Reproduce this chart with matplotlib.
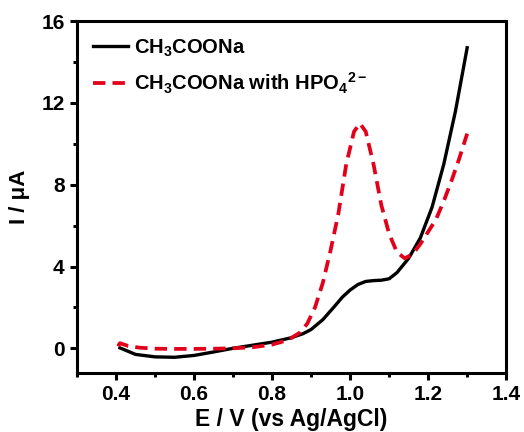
import matplotlib
matplotlib.use("Agg")
import matplotlib.pyplot as plt
from matplotlib.ticker import MultipleLocator

# black curve: CH3COONa
e_ref = [0.41, 0.45, 0.50, 0.55, 0.60, 0.65, 0.70, 0.75, 0.80, 0.85, 0.88, 0.90, 0.93,
         0.96, 0.98, 1.00, 1.02, 1.04, 1.06, 1.08, 1.10, 1.12, 1.15, 1.18, 1.21, 1.24,
         1.27, 1.30]
i_ref = [0.02, -0.30, -0.42, -0.44, -0.35, -0.18, 0.0, 0.15, 0.30, 0.52, 0.72, 0.92, 1.40,
         2.05, 2.5, 2.85, 3.12, 3.27, 3.31, 3.33, 3.4, 3.7, 4.4, 5.4, 6.9, 9.0,
         11.6, 14.7]

# red dashed curve: with HPO4 2-
e_hpo = [0.405, 0.41, 0.43, 0.46, 0.50, 0.55, 0.60, 0.65, 0.70, 0.75, 0.80, 0.84,
         0.87, 0.89, 0.91, 0.93, 0.95, 0.97, 0.99, 1.01, 1.025, 1.04, 1.06, 1.08,
         1.10, 1.12, 1.14, 1.16, 1.18, 1.20, 1.22, 1.24, 1.26, 1.28, 1.30]
i_hpo = [0.1, 0.25, 0.12, 0.03, -0.02, -0.03, -0.03, -0.02, 0.0, 0.05, 0.18, 0.40,
         0.75, 1.2, 2.0, 3.2, 4.8, 6.6, 9.0, 10.6, 11.0, 10.6, 9.0, 7.0,
         5.6, 4.7, 4.4, 4.6, 5.1, 5.7, 6.3, 7.2, 8.2, 9.3, 10.5]

labels = ["CH$_3$COONa", "CH$_3$COONa with HPO$_4$$^{2-}$"]
xticks = [0.4, 0.6, 0.8, 1.0, 1.2, 1.4]
xticklabels = ['0.4', '0.6', '0.8', '1.0', '1.2', '1.4']

plt.rcParams['font.family'] = ['Liberation Sans', 'DejaVu Sans']
plt.rcParams['font.weight'] = 'bold'
plt.rcParams['mathtext.fontset'] = 'custom'
plt.rcParams['mathtext.rm'] = 'Liberation Sans:bold'
plt.rcParams['mathtext.it'] = 'Liberation Sans:bold'
plt.rcParams['mathtext.bf'] = 'Liberation Sans:bold'
plt.rcParams['mathtext.default'] = 'regular'

fig = plt.figure(figsize=(5.24, 4.32), dpi=100)
ax = fig.add_axes([0.147, 0.137, 0.819, 0.814])

ax.plot(e_ref, i_ref, color='black', lw=2.4, label=labels[0])
ax.plot(e_hpo, i_hpo, color='#e3001b', lw=2.7, ls=(0, (3.3, 1.9)), label=labels[1])

ax.set_xlim(0.3, 1.4)
ax.set_ylim(-1.2, 16)
ax.xaxis.set_minor_locator(MultipleLocator(0.1))
ax.yaxis.set_major_locator(MultipleLocator(4))
ax.yaxis.set_minor_locator(MultipleLocator(2))
ax.set_xticks(xticks)
ax.set_xticklabels(xticklabels)

for sp in ax.spines.values():
    sp.set_linewidth(2.2)
ax.tick_params(which='major', direction='out', length=5, width=2.2, labelsize=15, pad=4)
ax.tick_params(which='minor', direction='out', length=3, width=2.2)

ax.set_xlabel('E / V (vs Ag/AgCl)', fontsize=16.5, fontweight='bold', labelpad=3)
ax.set_ylabel('I / μA', fontsize=16, fontweight='bold', labelpad=8)

ax.legend(loc='upper left', frameon=False, fontsize=14.5, handlelength=1.75,
          handletextpad=0.3, labelspacing=0.6, borderaxespad=0.4,
          borderpad=0.4)

fig.savefig('out.png', dpi=100)
